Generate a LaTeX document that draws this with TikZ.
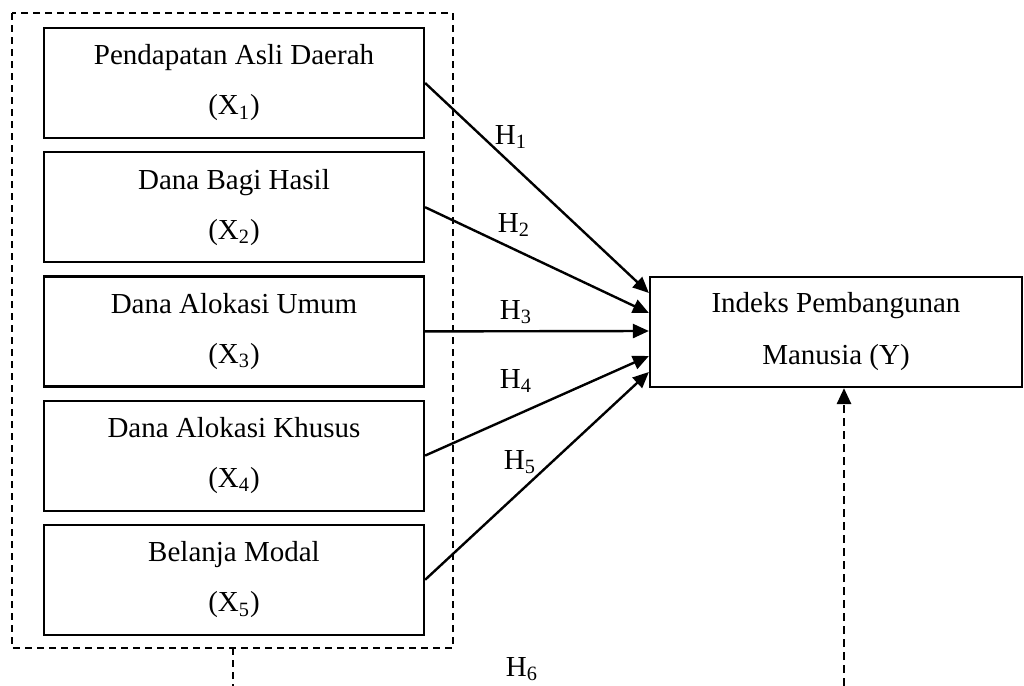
\documentclass[tikz,border=0pt]{standalone}
\usepackage{fontspec}
\setmainfont{Liberation Serif}
\usepackage{tikz}
\usetikzlibrary{positioning}
\usetikzlibrary{arrows.meta}

\tikzset{
	varbox/.style={draw, line width=1.1pt, minimum width=190pt, minimum height=55pt,
		inner sep=0pt, align=center, font=\fontsize{14.5}{25}\selectfont},
	hyp/.style={line width=1.2pt, -{Triangle[length=8pt,width=7pt]}},
	hlabel/.style={inner sep=0pt, font=\fontsize{14.5}{17}\selectfont},
	groupline/.style={line width=0.9pt, dash pattern=on 3.5pt off 2.5pt},
	moderline/.style={line width=1.4pt, dash pattern=on 4pt off 2.5pt,
		-{Triangle[length=8pt,width=7pt]}},
}

\begin{document}
\begin{tikzpicture}[x=0.5pt, y=-0.5pt]
	
	% ------------------------------------------------
	% Ensure the dimensions of graphic are appropriate
	\useasboundingbox (0,0) rectangle (1024,686);
	
	% ------------------------------------------------
	% Relevant coordinates
	\coordinate (FrameNW) at (12,13);
	\coordinate (FrameSE) at (453,648);
	
	\coordinate (StubTop) at (233,648);
	\path (StubTop) +(0,38) coordinate (StubEnd);
	
	\coordinate (RiseBeg) at (844,686);
	
	% ----------------
	% Independent variables
	\node[varbox] (X1) at (234,83) {Pendapatan Asli Daerah\\(X\textsubscript{1})};
	\node[varbox, below=6pt of X1] (X2) {Dana Bagi Hasil\\(X\textsubscript{2})};
	\node[varbox, below=6pt of X2] (X3) {Dana Alokasi Umum\\(X\textsubscript{3})};
	\node[varbox, below=6pt of X3] (X4) {Dana Alokasi Khusus\\(X\textsubscript{4})};
	\node[varbox, below=6pt of X4] (X5) {Belanja Modal\\(X\textsubscript{5})};
	
	% Dependent variable
	\node[varbox, minimum width=186pt, font=\fontsize{14.5}{26}\selectfont] (Y) at (836,332)
		{Indeks Pembangunan\\Manusia (Y)};
	
	%%%%%%%%%%%%%%%%%%%%%%%%%%%%%%%%%%%%%%%%%
	%Diagram
	\draw[groupline] (FrameNW) rectangle (FrameSE);
	
	\foreach \i/\dy in {1/-39, 2/-19, 3/-1, 4/24, 5/40}{
		\path (Y.west) +(0,\dy) coordinate (In\i);
		\draw[hyp] (X\i.east) -- (In\i);
	}
	
	\draw[groupline] (StubTop) -- (StubEnd);
	\draw[moderline] (RiseBeg) -- (RiseBeg |- Y.south);
	
	% ----------------
	% Hypothesis labels
	\node[hlabel] (H1) at (511,137) {H\textsubscript{1}};
	\node[hlabel] (H2) at (514,225) {H\textsubscript{2}};
	\node[hlabel] (H3) at (516,312) {H\textsubscript{3}};
	\node[hlabel] (H4) at (516,381) {H\textsubscript{4}};
	\node[hlabel] (H5) at (520,462) {H\textsubscript{5}};
	\node[hlabel] (H6) at (522,669) {H\textsubscript{6}};
	
\end{tikzpicture}
\end{document}
